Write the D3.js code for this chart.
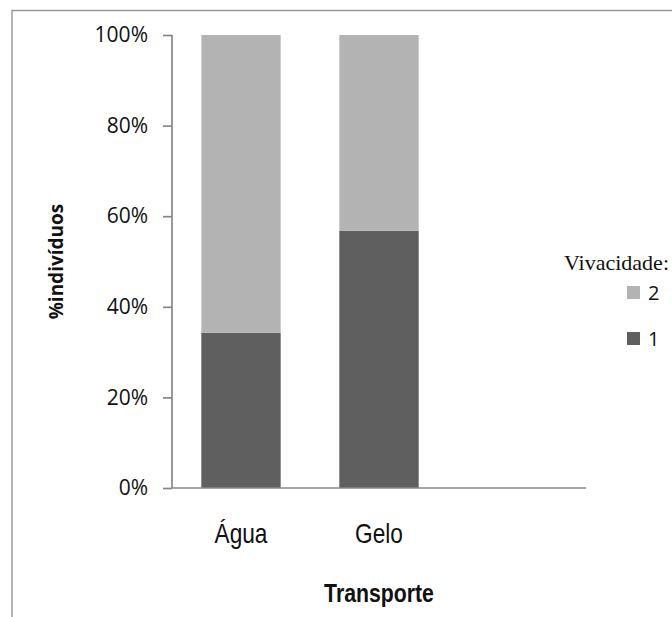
<!DOCTYPE html>
<html>
<head>
<meta charset="utf-8">
<script src="https://cdn.jsdelivr.net/npm/d3@7/dist/d3.min.js"></script>
<style>
  html, body { margin: 0; padding: 0; background: #fff; }
  svg { display: block; }
</style>
</head>
<body>
<svg id="chart" width="672" height="617"></svg>
<script>
// Transport categories (third slot left empty on the axis)
const categories = ["Água", "Gelo", ""];
// Share of individuals per vivacity level (fractions of 1)
const vivacidade1 = [0.3425, 0.568];
const vivacidade2 = [0.6575, 0.432];
const seriesNames = ["1", "2"];
const yTicks = [0, 0.2, 0.4, 0.6, 0.8, 1.0];

const svg = d3.select("#chart");
const W = 672, H = 617;
const margin = { left: 172, right: 86, top: 35, bottom: 129 };
const plotW = W - margin.left - margin.right;
const plotH = H - margin.top - margin.bottom;

const axisColor = "#878787";
const colors = { "1": "#5f5f5f", "2": "#b3b3b3" };
const sansFont = "'Open Sans', 'Noto Sans', sans-serif";
// narrow face: Liberation Sans squeezed horizontally
const narrowFont = "'Liberation Sans', Arial, sans-serif";

// chart frame
svg.append("rect")
  .attr("x", 12).attr("y", 10.5)
  .attr("width", 700).attr("height", 700)
  .attr("fill", "none")
  .attr("stroke", "#9a9a9a")
  .attr("stroke-width", 1.5);

const x = d3.scaleBand()
  .domain(categories)
  .range([0, plotW])
  .paddingInner(0.425)
  .paddingOuter(0.2125);

const y = d3.scaleLinear().domain([0, 1]).range([plotH, 0]);

const g = svg.append("g").attr("transform", `translate(${margin.left},${margin.top})`);

// stacked data
const rows = categories.slice(0, vivacidade1.length).map((c, i) => ({
  cat: c, "1": vivacidade1[i], "2": vivacidade2[i]
}));
const stack = d3.stack().keys(seriesNames)(rows);

g.selectAll("g.series")
  .data(stack)
  .join("g")
  .attr("class", "series")
  .attr("fill", d => colors[d.key])
  .selectAll("rect")
  .data(d => d)
  .join("rect")
  .attr("x", d => x(d.data.cat))
  .attr("width", x.bandwidth())
  .attr("y", d => y(d[1]))
  .attr("height", d => y(d[0]) - y(d[1]));

// y axis
const yAxis = d3.axisLeft(y)
  .tickValues(yTicks)
  .tickFormat(d3.format(".0%"))
  .tickSize(9)
  .tickPadding(15);
const yg = g.append("g").call(yAxis);
yg.select(".domain").remove();
yg.append("line")
  .attr("x1", 0).attr("x2", 0)
  .attr("y1", y(1)).attr("y2", y(0))
  .attr("stroke", axisColor).attr("stroke-width", 1.7);
yg.selectAll(".tick line").attr("stroke", axisColor).attr("stroke-width", 1.7);
yg.selectAll(".tick text")
  .attr("fill", "#111")
  .style("font-family", sansFont)
  .style("font-size", "21px");

// x axis
const xAxis = d3.axisBottom(x).tickSize(0).tickPadding(36);
const xg = g.append("g").attr("transform", `translate(0,${plotH})`).call(xAxis);
xg.select(".domain").remove();
xg.append("line")
  .attr("x1", 0).attr("x2", plotW)
  .attr("y1", 0).attr("y2", 0)
  .attr("stroke", axisColor).attr("stroke-width", 1.7);
xg.selectAll(".tick text")
  .attr("fill", "#111")
  .attr("transform", "scale(0.84,1)")
  .style("font-family", narrowFont)
  .style("font-size", "27px");

// axis titles
svg.append("text")
  .attr("transform", `translate(63,${margin.top + plotH / 2}) rotate(-90)`)
  .attr("text-anchor", "middle")
  .attr("fill", "#111")
  .style("font-family", sansFont)
  .style("font-weight", "bold")
  .style("font-size", "19px")
  .text("%indivíduos");

svg.append("text")
  .attr("transform", `translate(${margin.left + plotW / 2},602) scale(0.85,1)`)
  .attr("text-anchor", "middle")
  .attr("fill", "#111")
  .style("font-family", narrowFont)
  .style("font-weight", "bold")
  .style("font-size", "25px")
  .text("Transporte");

// legend
const legend = svg.append("g");
legend.append("text")
  .attr("x", 669).attr("y", 270)
  .attr("text-anchor", "end")
  .attr("fill", "#111")
  .style("font-family", "'Liberation Serif', 'Times New Roman', serif")
  .style("font-size", "22px")
  .text("Vivacidade:");

const legendItems = ["2", "1"];
const li = legend.selectAll("g.item")
  .data(legendItems)
  .join("g")
  .attr("class", "item")
  .attr("transform", (d, i) => `translate(627,${286 + i * 46})`);
li.append("rect")
  .attr("width", 13).attr("height", 13)
  .attr("fill", d => colors[d]);
li.append("text")
  .attr("x", 21).attr("y", 14)
  .attr("fill", "#111")
  .style("font-family", sansFont)
  .style("font-size", "20px")
  .text(d => d);
</script>
</body>
</html>
